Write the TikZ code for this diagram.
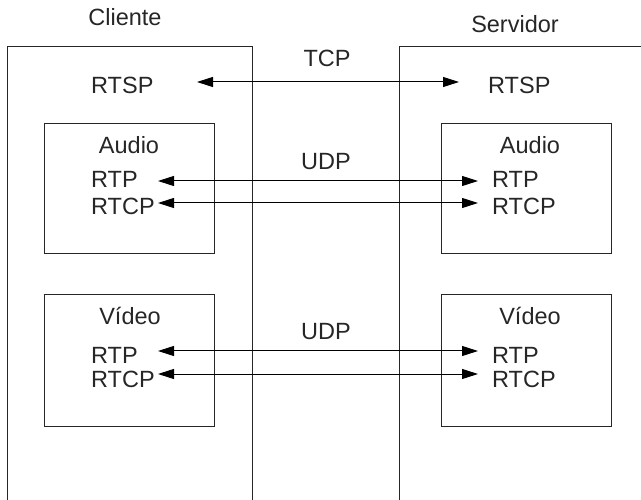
\documentclass[tikz,border=0pt]{standalone}
\usepackage{fontspec}
\setmainfont{Liberation Sans}
\usetikzlibrary{arrows.meta}
\begin{document}
\begin{tikzpicture}[x=1pt,y=-1pt,
  lbl/.style={inner sep=0pt,font=\fontsize{23.5}{27}\selectfont,text=black!85},
  box/.style={draw=black!85,line width=1pt},
  conn/.style={draw=black,line width=1pt,{Triangle[length=16pt,width=10pt]}-{Triangle[length=16pt,width=10pt]}}]
\useasboundingbox (0,0) rectangle (641,500);
% outer frames
\draw[box] (7,500) -- (7,47) -- (252,47) -- (252,500);
\draw[box] (641,47) -- (399,47) -- (399,500);
% inner boxes
\node[box,minimum width=170pt,minimum height=130pt,inner sep=0pt,anchor=north west] (cA) at (44,123) {};
\node[box,minimum width=170pt,minimum height=130pt,inner sep=0pt,anchor=north west] (sA) at (441,123) {};
\node[box,minimum width=170pt,minimum height=132pt,inner sep=0pt,anchor=north west] (cV) at (44,294) {};
\node[box,minimum width=170pt,minimum height=132pt,inner sep=0pt,anchor=north west] (sV) at (441,294) {};
% titles
\node[lbl,anchor=base] (cli) at (125,26) {Cliente};
\node[lbl,anchor=base] (srv) at (515,33) {Servidor};
% RTSP
\node[lbl,anchor=base west] (cRTSP) at (91,94) {RTSP};
\node[lbl,anchor=base west] (sRTSP) at (488,94) {RTSP};
\node[lbl,anchor=base] (tcp) at (327,67) {TCP};
% audio
\node[lbl,anchor=base] (cAu) at (129,154) {Audio};
\node[lbl,anchor=base] (sAu) at (530,154) {Audio};
\node[lbl,anchor=base] (udp1) at (326,170) {UDP};
\node[lbl,anchor=base west] (cARTP) at (91,188) {RTP};
\node[lbl,anchor=base west] (cARTCP) at (91,215) {RTCP};
\node[lbl,anchor=base west] (sARTP) at (492,188) {RTP};
\node[lbl,anchor=base west] (sARTCP) at (492,215) {RTCP};
% video
\node[lbl,anchor=base] (cVi) at (130,325) {Vídeo};
\node[lbl,anchor=base] (sVi) at (530,325) {Vídeo};
\node[lbl,anchor=base] (udp2) at (326,340) {UDP};
\node[lbl,anchor=base west] (cVRTP) at (91,363) {RTP};
\node[lbl,anchor=base west] (cVRTCP) at (91,388) {RTCP};
\node[lbl,anchor=base west] (sVRTP) at (492,363) {RTP};
\node[lbl,anchor=base west] (sVRTCP) at (492,388) {RTCP};
% arrow end points
\coordinate (t1) at (197,82);  \coordinate (t2) at (459,82);
\coordinate (a1) at (158,181); \coordinate (a2) at (478,181);
\coordinate (a3) at (158,203); \coordinate (a4) at (478,203);
\coordinate (v1) at (158,351); \coordinate (v2) at (478,351);
\coordinate (v3) at (158,374); \coordinate (v4) at (478,374);
\draw[conn] (t1) -- (t2);
\draw[conn] (a1) -- (a2);
\draw[conn] (a3) -- (a4);
\draw[conn] (v1) -- (v2);
\draw[conn] (v3) -- (v4);
\end{tikzpicture}
\end{document}
